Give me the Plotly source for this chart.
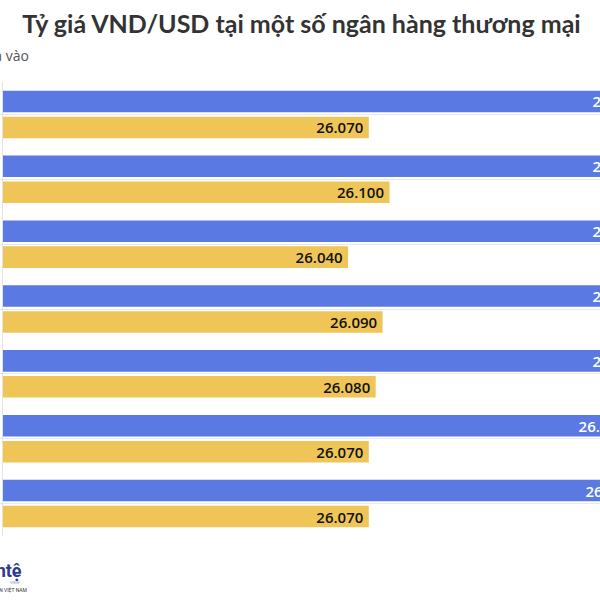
import plotly.graph_objects as go

banks = ["Vietcombank", "BIDV", "VietinBank", "Agribank", "Techcombank", "ACB", "Sacombank"]
sell_rates = [26470, 26470, 26470, 26470, 26470, 26450, 26460]
buy_rates = [26070, 26100, 26040, 26090, 26080, 26070, 26070]

title_text = "Tỷ giá VND/USD tại một số ngân hàng thương mại"
legend_text = "Giá bán ra và giá mua vào"
logo_text = "Tiềntệ"
logo_sub = "CỔNG THÔNG TIN VIỆT NAM"
logo_tag = "VIEW"

BLUE = "#5a79e2"
YELLOW = "#efc557"
LABEL_SIZE = 15

fig = go.Figure()
fig.add_trace(go.Bar(
    y=banks, x=sell_rates, orientation="h", name="Giá bán ra",
    marker=dict(color=BLUE, line=dict(width=0)),
    texttemplate="%{x:,.0f}\u2009", textposition="inside", insidetextanchor="end",
    textfont=dict(family="Open Sans", size=LABEL_SIZE, color="white", weight=600),
    cliponaxis=True,
))
fig.add_trace(go.Bar(
    y=banks, x=buy_rates, orientation="h", name="Giá mua vào",
    marker=dict(color=YELLOW, line=dict(width=0)),
    texttemplate="%{x:,.0f}\u2009", textposition="inside", insidetextanchor="end",
    textfont=dict(family="Open Sans", size=LABEL_SIZE, color="#111111", weight=600),
    cliponaxis=True,
))

fig.update_layout(
    width=600, height=600,
    margin=dict(l=3, r=0, t=82, b=64),
    paper_bgcolor="white", plot_bgcolor="white",
    separators=",.",
    barmode="group", bargap=0.2, bargroupgap=0.17,
    showlegend=False,
    uniformtext=dict(mode="show", minsize=LABEL_SIZE),
    title=dict(text=title_text, x=0.5, xanchor="center", xref="paper",
               y=0.974, yanchor="top", yref="container",
               font=dict(family="Lato", size=25, color="#333333", weight=700)),
    xaxis=dict(range=[25540, 26405], showgrid=False, zeroline=False,
               showticklabels=False, showline=False, ticks=""),
    yaxis=dict(autorange="reversed", showticklabels=False, showgrid=True,
               gridcolor="#e8e8e8", gridwidth=1, showline=True, linecolor="#e3e3e3",
               linewidth=1, ticks="outside", ticklen=3, tickcolor="#e3e3e3"),
)

fig.add_annotation(text=legend_text, xref="paper", yref="paper",
                   x=0, y=1.0, xanchor="right", yanchor="bottom", yshift=15,
                   showarrow=False, xshift=28,
                   font=dict(family="Open Sans", size=14, color="#555555"))
fig.add_annotation(text=logo_text, xref="paper", yref="paper",
                   x=0, y=0, xanchor="right", yanchor="top", xshift=21, yshift=-22,
                   showarrow=False,
                   font=dict(family="Roboto", size=18, color="#2b3990", weight=700))
fig.add_annotation(text=logo_tag, xref="paper", yref="paper",
                   x=0, y=0, xanchor="right", yanchor="top", xshift=19, yshift=-42,
                   showarrow=False,
                   font=dict(family="Roboto", size=4, color="#8890b8"))
fig.add_annotation(text=logo_sub, xref="paper", yref="paper",
                   x=0, y=0, xanchor="right", yanchor="top", xshift=26, yshift=-48,
                   showarrow=False,
                   font=dict(family="Roboto", size=5, color="#333333"))

fig.write_html("out.html", config={"displayModeBar": False},
               post_script="document.body.style.margin='0px';")
